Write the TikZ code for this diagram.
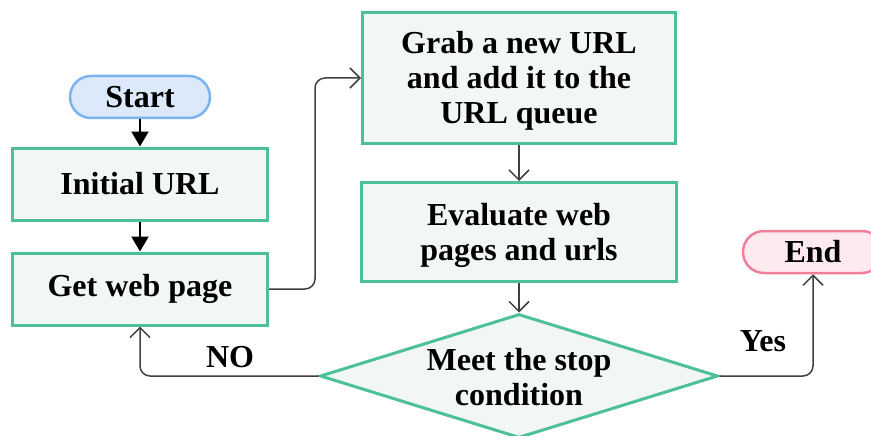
\documentclass[tikz,border=0pt]{standalone}
\usepackage{fontspec}
\setmainfont{Liberation Serif}
\usetikzlibrary{shapes.geometric,arrows.meta}
\definecolor{boxfill}{HTML}{F2F7F6}
\definecolor{boxline}{HTML}{4DBF99}
\definecolor{startfill}{HTML}{DCE9FB}
\definecolor{startline}{HTML}{7AB3EF}
\definecolor{endfill}{HTML}{FDEAEE}
\definecolor{endline}{HTML}{F07F9B}
\definecolor{wire}{HTML}{404040}
\tikzset{
  lbl/.style={font=\bfseries\fontsize{32}{35}\selectfont, align=center},
  procbox/.style={lbl, draw=boxline, fill=boxfill, line width=3pt, inner sep=0pt},
  terminal/.style={lbl, rounded corners=21pt, line width=2.5pt, minimum width=140pt, minimum height=42pt, inner sep=0pt},
  decision/.style={diamond, draw=boxline, fill=boxfill, line width=3pt, minimum width=398pt, minimum height=124pt, inner sep=0pt},
  solidarrow/.style={draw=black, line width=2pt, -{Triangle[length=15pt,width=17pt]}},
  openarrow/.style={draw=wire, line width=1.5pt, rounded corners=10pt, -{Straight Barb[length=10pt,width=20pt,line width=1.5pt]}},
}
\begin{document}
\begin{tikzpicture}[x=1pt,y=-1pt]
\useasboundingbox (0,0) rectangle (871,436);
\fill[white] (0,0) rectangle (871,436);

\node[terminal, draw=startline, fill=startfill] (start) at (140,97) {Start};
\node[procbox, minimum width=255pt, minimum height=72pt] (init) at (140,184) {Initial URL};
\node[procbox, minimum width=255pt, minimum height=72pt] (get) at (140,289) {Get web page};
\node[procbox, minimum width=313pt, minimum height=130pt] (grab) at (519,78) {};
\node[lbl] (grabtext) at (519,81) {Grab a new URL\\and add it to the\\URL queue};
\node[procbox, minimum width=315pt, minimum height=99pt] (eval) at (519,232) {};
\node[lbl] (evaltext) at (519,235) {Evaluate web\\pages and urls};
\node[decision] (stop) at (519,376) {};
\node[lbl] (stoptext) at (519,377) {Meet the stop\\condition};
\node[terminal, draw=endline, fill=endfill] (end) at (813,252) {End};

\node[lbl, anchor=center] (no) at (230,357) {NO};
\node[lbl, anchor=center] (yes) at (763,341) {Yes};

\draw[solidarrow] (start) -- (init);
\draw[solidarrow] (init) -- (get);
\draw[openarrow] (get.east) -- (315,289) -- (315,78) -- (grab.west);
\draw[openarrow] (grab) -- (eval);
\draw[openarrow] (eval) -- (stop.north);
\draw[openarrow] (stop.west) -- (get.south |- stop.west) -- (get.south);
\draw[openarrow] (stop.east) -- (end.south |- stop.east) -- (end.south);
\end{tikzpicture}
\end{document}
